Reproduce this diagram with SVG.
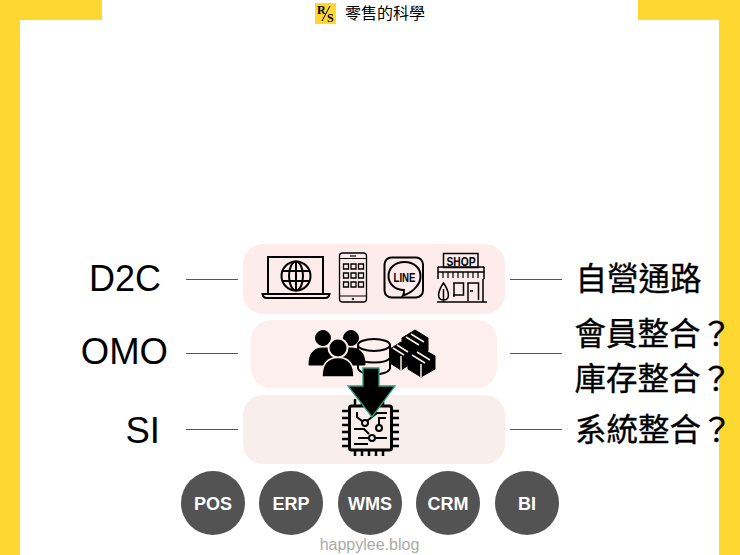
<svg xmlns="http://www.w3.org/2000/svg" width="740" height="555" viewBox="0 0 740 555">
<style>
text{font-family:"Liberation Sans","Noto Sans CJK TC",sans-serif}
.lab{font-size:36.500px;fill:#000;text-anchor:end}
.zh{font-size:31.500px;fill:#000;stroke:#000;stroke-width:.35;font-family:"Noto Sans CJK TC",sans-serif}
.ln{stroke:#555;stroke-width:1;fill:none}
.c{fill:#535353}
.ct{font-size:18px;font-weight:bold;fill:#fff;text-anchor:middle}
.ic{fill:none;stroke:#000;stroke-width:2}
.s{fill:#000;stroke:#000;stroke-width:1}
.tape{fill:none;stroke:#fdefed;stroke-width:1.500}
</style>
<rect width="740" height="555" fill="#ffd731"/>
<rect x="20" y="20" width="699" height="535" fill="#fff"/>
<rect x="102" y="0" width="536" height="21" fill="#fff"/>
<g id="logo"><rect x="315" y="3" width="21" height="21" fill="#ffd731"/><text x="317" y="14" font-size="12" font-weight="bold" style="font-family:'Liberation Serif',serif">R</text><text x="327" y="22" font-size="12" font-weight="bold" style="font-family:'Liberation Serif',serif">S</text><path d="M322 21L330 6" stroke="#000" fill="none"/></g>
<text x="345" y="19" font-size="16" style="font-family:'Noto Sans CJK TC',sans-serif">零售的科學</text>
<g id="band-d2c"><rect x="243" y="244" width="262" height="70" rx="20" fill="#fdeceb"/>
<g id="icon-laptop" class="ic"><path d="M268 293V257H323V293"/><path d="M262.500 294H329.500C329 297 327 298 325 298H267C264 298 263 297 262.500 294Z"/><circle cx="296" cy="276" r="14.500"/><ellipse cx="296" cy="276" rx="7" ry="14.500"/><path d="M282 271H310M282 281H310M296 261.500V290.500"/></g>
<g id="icon-phone" class="ic"><rect x="339.500" y="253" width="27" height="49" rx="3" stroke-width="1.300"/><path d="M340 258.500H366M340 296H366" stroke-width="1"/><path d="M350 256H356" stroke-width="1.200"/><circle cx="353" cy="299" r=".8" fill="#000" stroke-width=".8"/><path d="M343.500 264h5v5h-5zM351 264h5v5h-5zM358.500 264h5v5h-5zM343.500 273h5v5h-5zM351 273h5v5h-5zM358.500 273h5v5h-5zM343.500 282h5v5h-5zM351 282h5v5h-5zM358.500 282h5v5h-5z" stroke-width="1.300"/></g>
<g id="icon-line"><rect x="384.500" y="257.500" width="38.500" height="40" rx="7" class="ic"/><path d="M404.500 262C395 262 388.500 268 388.500 276C388.500 284 395 290 404 290C404 292 404 294 403 295.500C408 294 414 290 417 286C419.500 283 420.500 280 420.500 276C420.500 268 414 262 404.500 262Z" class="ic"/><text x="404.500" y="281.500" font-size="13" font-weight="bold" text-anchor="middle" fill="#000" textLength="22" lengthAdjust="spacingAndGlyphs">LINE</text></g>
<g id="icon-shop" class="ic"><rect x="443.500" y="253.500" width="34.500" height="14" stroke-width="1.500"/><text x="461" y="265.500" font-size="13" font-weight="bold" text-anchor="middle" fill="#000" stroke="none" textLength="29" lengthAdjust="spacingAndGlyphs">SHOP</text><path d="M438 267H484M438 267V279M484 267V279M438 272H484" stroke-width="1.500"/><path d="M443 272v6M448 272v6M453 272v6M458 272v6M463 272v6M468 272v6M473 272v6M478 272v6" stroke-width="1.200"/><path d="M437 302H487" stroke-width="1.500"/><path d="M443.500 283C438 291 436 300 443.500 300C451 300 449 291 443.500 283ZM443.500 289V302" stroke-width="1.500"/><path d="M453 283H463.500V295H453M454 297V283M468 301V283H478.500V300M470 291h3M483 279V302" stroke-width="1.500"/></g></g>
<g id="band-omo"><rect x="251" y="320" width="246" height="68" rx="20" fill="#fdefed"/>
<g id="icon-db" class="ic"><ellipse cx="374" cy="345" rx="16" ry="6"/><path d="M358 345V369M390 345V369M358 358C362 364 386 364 390 358M358 369C362 376 386 376 390 369"/></g>
<g id="icon-people"><circle cx="323" cy="338" r="7.500" class="s"/><circle cx="351" cy="338" r="7.500" class="s"/><path d="M309 365C309 353 314 348 323 348H351C360 348 365 353 365 365Z" class="s"/><circle cx="338" cy="348" r="9.500" fill="#000" stroke="#fdefed" stroke-width="2"/><path d="M322 377C322 363 328 357.500 338 357.500C348 357.500 354 363 354 377Z" fill="#000" stroke="#fdefed" stroke-width="1.500"/></g>
<g id="icon-boxes"><g id="box-top"><path d="M402 338L415 330L428 338V351L415 359L402 351Z" class="s"/><path d="M406 337L419 345M411 334L424 342" class="tape"/></g>
<g id="box-left"><path d="M390 349L401 342L412 349V363L401 370L390 363Z" class="s"/><path d="M393 348L404 355M397 345L408 352M401 356V370" class="tape"/></g>
<g id="box-right"><path d="M408 356L421 348L435 356V369L421 377L408 369Z" class="s"/><path d="M412 355L425 363M417 352L430 360M421 364V377" class="tape"/></g></g></g>
<g id="band-si"><rect x="243" y="395" width="262" height="69" rx="20" fill="#f8efec"/>
<g id="icon-chip" class="ic"><rect x="349.500" y="406" width="42" height="44" rx="2" stroke-width="3"/><path d="M342 411H349M342 418H349M342 425H349M342 432H349M342 439H349M342 446H349M392 411H399M392 418H399M392 425H399M392 432H399M392 439H399M392 446H399M355 399V406M362 399V406M369 399V406M376 399V406M383 399V406M355 450V456M362 450V456M369 450V456M376 450V456M383 450V456" stroke-width="2.500"/><path d="M357 412V417L362 421M367 421L377 413H387M379 425V418L386 418M369 438H358M376 438H387M354 429H364L369 434M354 444H368" stroke-width="2"/><circle cx="365" cy="423" r="3" stroke-width="2"/><circle cx="379" cy="428" r="3" stroke-width="2"/><circle cx="372" cy="438" r="3" stroke-width="2"/></g></g>
<path id="arrow" d="M363 368H379V386H395L372 417L348 386H363Z" fill="#000" stroke="#2a9d82" stroke-width="1.300"/>
<g id="connectors" class="ln"><path d="M186 279.500H238M510 279.500H562M186 353.500H238M510 353.500H562M186 429.500H238M510 429.500H562"/></g>
<g id="label-d2c"><text x="161" y="291" class="lab" style="font-size:36px">D2C</text></g>
<g id="label-omo"><text x="168" y="364" class="lab">OMO</text></g>
<g id="label-si"><text x="160" y="443" class="lab">SI</text></g>
<g id="zh-1"><text x="575.500" y="289.500" class="zh">自營通路</text></g>
<g id="zh-2"><text x="574.500" y="344.500" class="zh">會員整合？</text></g>
<g id="zh-3"><text x="574.500" y="389.500" class="zh">庫存整合？</text></g>
<g id="zh-4"><text x="575" y="441" class="zh">系統整合？</text></g>
<g id="pos"><circle cx="213" cy="503" r="32" class="c"/><text x="213" y="510" class="ct">POS</text></g>
<g id="erp"><circle cx="291" cy="503" r="32" class="c"/><text x="291" y="510" class="ct">ERP</text></g>
<g id="wms"><circle cx="370" cy="503" r="32" class="c"/><text x="370" y="510" class="ct">WMS</text></g>
<g id="crm"><circle cx="448" cy="503" r="32" class="c"/><text x="448" y="510" class="ct">CRM</text></g>
<g id="bi"><circle cx="527" cy="503" r="32" class="c"/><text x="527" y="510" class="ct">BI</text></g>
<text x="369.500" y="550" font-size="16" fill="#aaa" text-anchor="middle">happylee.blog</text>
</svg>
